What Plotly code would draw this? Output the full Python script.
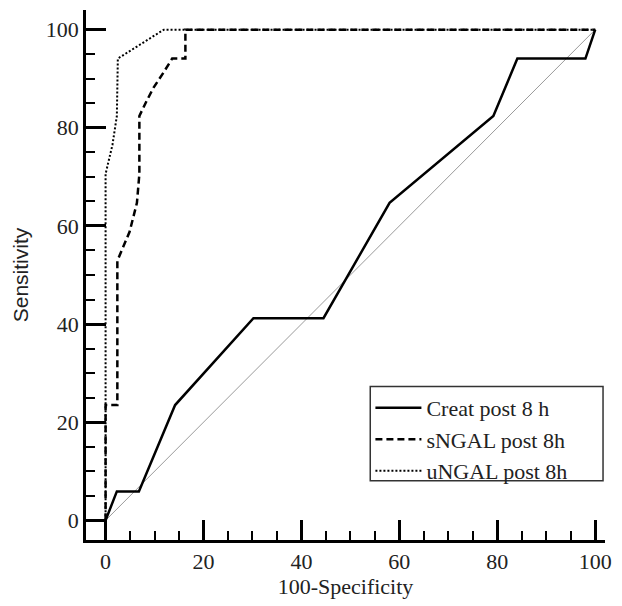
import plotly.graph_objects as go

# Data (x = 100-Specificity, y = Sensitivity)
creat_x = [0, 2.3, 6.8, 14.2, 30.2, 44.5, 58.0, 79.2, 84.1, 98.0, 100]
creat_y = [0, 5.9, 5.9, 23.5, 41.2, 41.2, 64.7, 82.4, 94.1, 94.1, 100]

sngal_x = [0, 0, 2.4, 2.4, 4.9, 6.4, 6.9, 6.9, 8.3, 9.8, 11.8, 13.6, 16.3, 16.3, 100]
sngal_y = [0, 23.5, 23.5, 52.9, 58.8, 64.7, 70.6, 82.4, 85.3, 88.2, 91.2, 94.1, 94.1, 100, 100]

ungal_x = [0, 0, 1.4, 2.3, 2.5, 11.9, 100]
ungal_y = [0, 70.6, 76.5, 82.4, 94.1, 100, 100]

diag_x = [0, 100]
diag_y = [0, 100]

series_names = ["Creat post 8 h", "sNGAL post 8h", "uNGAL post 8h"]

fig = go.Figure()
fig.add_trace(go.Scatter(x=diag_x, y=diag_y, mode="lines", showlegend=False,
                         line=dict(color="#9a9a9a", width=1), hoverinfo="skip"))
fig.add_trace(go.Scatter(x=creat_x, y=creat_y, mode="lines", name=series_names[0],
                         line=dict(color="black", width=2.5)))
fig.add_trace(go.Scatter(x=sngal_x, y=sngal_y, mode="lines", name=series_names[1],
                         line=dict(color="black", width=2.5, dash="7px,4px")))
fig.add_trace(go.Scatter(x=ungal_x, y=ungal_y, mode="lines", name=series_names[2],
                         line=dict(color="black", width=2, dash="2px,2px")))

axis_common = dict(
    showgrid=False, zeroline=False, showline=True, linecolor="black", linewidth=2.5,
    ticks="inside", ticklen=20, tickwidth=2.5, tickcolor="black",
    tick0=0, dtick=20,
    minor=dict(ticks="inside", ticklen=9, tickwidth=2, tickcolor="black", dtick=5, tick0=0, showgrid=False),
    tickfont=dict(family="Liberation Serif", size=22, color="#222"),
)

fig.update_xaxes(range=[-4, 102], title=dict(text="100-Specificity", standoff=6,
                 font=dict(family="Liberation Serif", size=22, color="#222")), **axis_common)
fig.update_yaxes(range=[-4, 104], title=dict(text="Sensitivity", standoff=12,
                 font=dict(family="Liberation Sans", size=21, color="#222")), **axis_common)

# Legend frame (drawn as a shape so it can be wider than the entries)
fig.add_shape(type="rect", xref="paper", yref="paper",
              x0=0.5477, x1=0.9962, y0=0.112, y1=0.2895,
              line=dict(color="#333", width=1.5), fillcolor="white", layer="above")

fig.update_layout(
    width=622, height=606,
    margin=dict(l=86, r=12, t=10, b=64),
    plot_bgcolor="white", paper_bgcolor="white",
    legend=dict(x=0.548, y=0.289, xanchor="left", yanchor="top",
                borderwidth=0, bgcolor="rgba(0,0,0,0)",
                font=dict(family="Liberation Serif", size=22, color="#222"),
                itemwidth=46, tracegroupgap=0),
)

fig.write_html("out.html")
